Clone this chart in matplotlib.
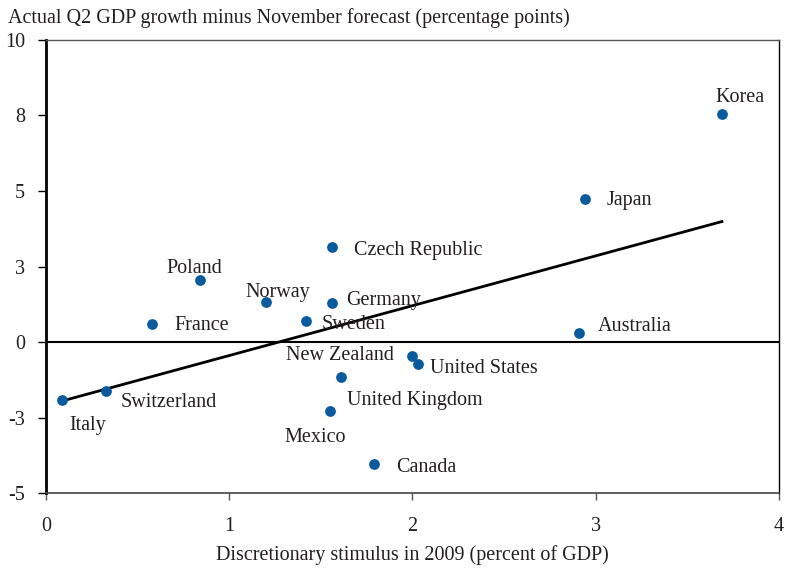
import numpy as np
import matplotlib
matplotlib.use("Agg")
import matplotlib.pyplot as plt

plt.rcParams['font.family'] = ['Liberation Serif', 'DejaVu Serif']

countries = ["Italy", "Switzerland", "France", "Poland", "Norway", "Sweden",
             "Germany", "Czech Republic", "New Zealand", "United States",
             "United Kingdom", "Mexico", "Canada", "Australia", "Japan", "Korea"]
stimulus = [0.09, 0.33, 0.58, 0.84, 1.20, 1.42, 1.56, 1.56, 2.00, 2.03,
            1.61, 1.55, 1.79, 2.91, 2.94, 3.69]
surprise = [-1.92, -1.62, 0.60, 2.05, 1.32, 0.70, 1.29, 3.15, -0.46, -0.73,
            -1.16, -2.28, -4.04, 0.30, 4.74, 7.55]

ytick_vals = [-5, -2.5, 0, 2.5, 5, 7.5, 10]
ytick_labels = ["-5", "-3", "0", "3", "5", "8", "10"]
xtick_vals = [0, 1, 2, 3, 4]

# label offsets in pixels (dx, dy, ha)
offsets = {
    "Korea": (18, 16, "center"),
    "Japan": (22, -2, "left"),
    "Czech Republic": (22, -4, "left"),
    "Poland": (-33, 12, "left"),
    "Norway": (-20, 10, "left"),
    "Germany": (14, 3, "left"),
    "France": (22, -2, "left"),
    "Sweden": (16, -4, "left"),
    "Australia": (19, 6, "left"),
    "New Zealand": (-18, 0, "right"),
    "United States": (12, -4, "left"),
    "Switzerland": (14, -12, "left"),
    "United Kingdom": (6, -23, "left"),
    "Italy": (7, -25, "left"),
    "Mexico": (-45, -27, "left"),
    "Canada": (22, -3, "left"),
}

fig = plt.figure(figsize=(7.85, 5.68), dpi=100)
ax = fig.add_axes([0.0586, 0.132, 0.9334, 0.7976])

ax.scatter(stimulus, surprise, s=60, color="#0a5a9e", zorder=3, linewidths=0)

# OLS trend line
xs = np.array(stimulus)
ys = np.array(surprise)
b, a = np.polyfit(xs, ys, 1)
xl = np.array([xs.min(), xs.max()])
ax.plot(xl, a + b * xl, color="black", lw=2, zorder=2)

ax.axhline(0, color="black", lw=1.5, zorder=1)

for name, x, y in zip(countries, stimulus, surprise):
    dx, dy, ha = offsets[name]
    ax.annotate(name, (x, y), xytext=(dx, dy), textcoords="offset pixels",
                ha=ha, va="center", fontsize=14.5, color="#231f20")

ax.set_xlim(0, 4)
ax.set_ylim(-5, 10)
ax.set_yticks(ytick_vals)
ax.set_yticklabels(ytick_labels)
ax.set_xticks(xtick_vals)

ax.spines["left"].set_linewidth(2)
ax.spines["left"].set_color("black")
ax.spines["top"].set_linewidth(1)
ax.spines["top"].set_color("#555555")
ax.spines["right"].set_linewidth(1)
ax.spines["right"].set_color("black")
ax.spines["bottom"].set_linewidth(1.2)
ax.spines["bottom"].set_color("#444444")
ax.spines["bottom"].set_linestyle((0, (2, 1)))

ax.tick_params(axis="y", direction="out", length=6, width=1, labelsize=14.5, pad=9,
               labelcolor="#231f20")
ax.tick_params(axis="x", direction="out", length=5, width=1, labelsize=14.5, pad=12,
               color="#555555", labelcolor="#231f20")

ax.set_xlabel("Discretionary stimulus in 2009 (percent of GDP)", fontsize=14.5,
              labelpad=7, color="#231f20")
fig.text(0.010, 0.968, "Actual Q2 GDP growth minus November forecast (percentage points)",
         fontsize=14.5, ha="left", va="center", color="#231f20")

fig.savefig("out.png", dpi=100)
